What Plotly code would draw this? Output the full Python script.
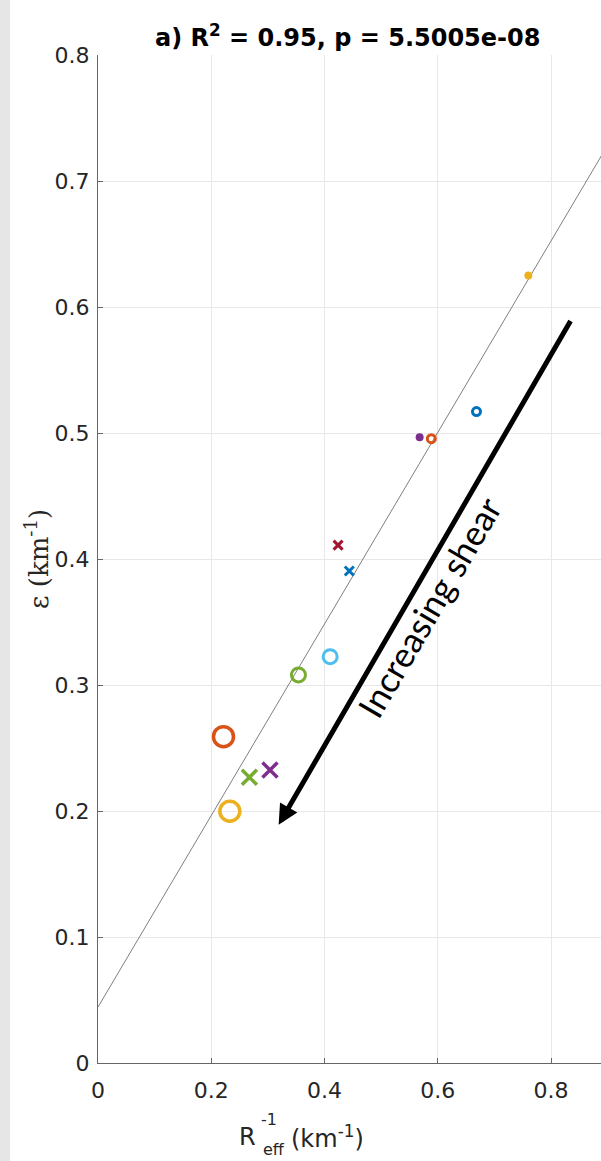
import plotly.graph_objects as go

# Effective inverse radius (km^-1) and epsilon (km^-1) per case
x_big_circ = [0.2216, 0.2328]
y_big_circ = [0.259, 0.1998]
c_big_circ = ["#D95319", "#EDB120"]

x_mid_circ = [0.354, 0.410]
y_mid_circ = [0.308, 0.3225]
c_mid_circ = ["#77AC30", "#4DBEEE"]

x_big_x = [0.2674, 0.3037]
y_big_x = [0.2267, 0.2325]
c_big_x = ["#77AC30", "#7E2F8E"]

x_small_x = [0.424, 0.4438]
y_small_x = [0.411, 0.3905]
c_small_x = ["#A2142F", "#0072BD"]

x_small_circ = [0.5887, 0.6684]
y_small_circ = [0.4955, 0.517]
c_small_circ = ["#D95319", "#0072BD"]

x_dot = [0.568, 0.760]
y_dot = [0.4966, 0.625]
c_dot = ["#7E2F8E", "#EDB120"]

# Linear fit
fit_intercept = 0.0444
fit_slope = 0.760
fit_x = [0.0, 0.95]
fit_y = [fit_intercept + fit_slope * v for v in fit_x]

# Arrow tail / head in data units
arrow_tail = (0.836, 0.590)
arrow_head = (0.319, 0.189)

x_ticks = [0, 0.2, 0.4, 0.6, 0.8]
y_ticks = [0, 0.1, 0.2, 0.3, 0.4, 0.5, 0.6, 0.7, 0.8]

W, H = 601, 1161
ML, MR, MT, MB = 98, 0, 55, 98
PW, PH = W - ML - MR, H - MT - MB

SANS = "DejaVu Sans"
INK = "#262626"


def px(xp):
    return (xp - ML) / PW


def py(yp):
    return (H - MB - yp) / PH


def label(xp, yp, text, size, family=SANS, xanchor="center", angle=0,
          color=INK):
    return dict(x=px(xp), y=py(yp), xref="paper", yref="paper", text=text,
                showarrow=False, xanchor=xanchor, yanchor="middle",
                textangle=angle, font=dict(family=family, size=size,
                                           color=color))


fig = go.Figure()

fig.add_trace(go.Scatter(x=fit_x, y=fit_y, mode="lines",
                         line=dict(color="#7f7f7f", width=1), hoverinfo="skip"))

fig.add_trace(go.Scatter(x=x_big_circ, y=y_big_circ, mode="markers",
                         marker=dict(symbol="circle-open", size=20,
                                     color=c_big_circ, line=dict(width=3.5))))
fig.add_trace(go.Scatter(x=x_mid_circ, y=y_mid_circ, mode="markers",
                         marker=dict(symbol="circle-open", size=14,
                                     color=c_mid_circ, line=dict(width=3))))
fig.add_trace(go.Scatter(x=x_big_x, y=y_big_x, mode="markers",
                         marker=dict(symbol="x-thin-open", size=15,
                                     color=c_big_x, line=dict(width=3.5))))
fig.add_trace(go.Scatter(x=x_small_x, y=y_small_x, mode="markers",
                         marker=dict(symbol="x-thin-open", size=9,
                                     color=c_small_x, line=dict(width=3))))
fig.add_trace(go.Scatter(x=x_small_circ, y=y_small_circ, mode="markers",
                         marker=dict(symbol="circle-open", size=8,
                                     color=c_small_circ, line=dict(width=3))))
fig.add_trace(go.Scatter(x=x_dot, y=y_dot, mode="markers",
                         marker=dict(symbol="circle", size=8, color=c_dot,
                                     line=dict(width=0))))

annotations = [
    # Shear arrow
    dict(x=arrow_head[0], y=arrow_head[1], ax=arrow_tail[0], ay=arrow_tail[1],
         xref="x", yref="y", axref="x", ayref="y", text="", showarrow=True,
         arrowhead=2, arrowsize=0.8, arrowwidth=5, arrowcolor="black"),
    dict(x=0.584, y=0.362, xref="x", yref="y", text="Increasing shear",
         showarrow=False, textangle=-59.7, xanchor="center", yanchor="middle",
         font=dict(family="Lato", size=35, color="black")),
    # Title
    label(347, 36, "<b>a) R<sup>2</sup> = 0.95, p = 5.5005e-08</b>", 24,
          color="black"),
    # y-axis label
    label(37, 559, "ε (km<sup>-1</sup>)", 26, family="DejaVu Serif",
          angle=-90),
    # x-axis label, with stacked super/subscript
    label(258, 1137, "R", 24, xanchor="right"),
    label(259, 1119, "-1", 16, xanchor="left"),
    label(261, 1149, "eff", 16, xanchor="left"),
    label(289, 1137, "(km<sup>-1</sup>)", 24, xanchor="left"),
]

axis_common = dict(
    showgrid=True, gridcolor="#e8e8e8", gridwidth=1,
    showline=True, linecolor="#666666", linewidth=1,
    ticks="inside", ticklen=5, tickcolor="#666666", zeroline=False,
    tickfont=dict(family=SANS, size=22, color=INK),
)

fig.update_layout(
    width=W, height=H,
    margin=dict(l=ML, r=MR, t=MT, b=MB),
    paper_bgcolor="white", plot_bgcolor="white",
    showlegend=False,
    annotations=annotations,
    shapes=[dict(type="rect", xref="paper", yref="paper",
                 x0=px(0), x1=px(10), y0=py(H), y1=py(0),
                 fillcolor="#e6e6e6", line=dict(width=0), layer="below")],
    xaxis=dict(range=[0, 503 / 566.25], tickvals=x_ticks,
               ticktext=[f"{v:g}" for v in x_ticks],
               ticklabelstandoff=8, **axis_common),
    yaxis=dict(range=[0, 0.8], tickvals=y_ticks,
               ticktext=[f"{v:g}" for v in y_ticks],
               ticklabelstandoff=3, **axis_common),
)

fig.write_html("out.html")
